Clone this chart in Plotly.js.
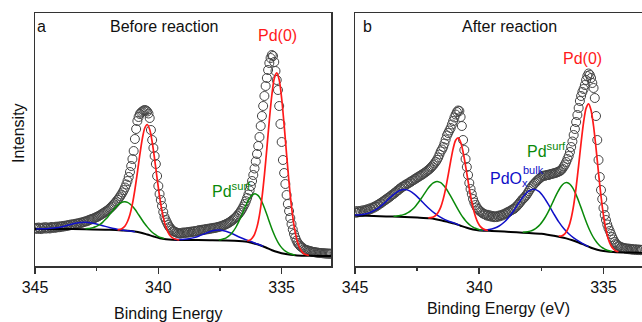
<!DOCTYPE html>
<html>
<head>
<meta charset="utf-8">
<script src="https://cdn.plot.ly/plotly-3.0.1.min.js"></script>
<style>html,body{margin:0;padding:0;background:#fff;overflow:hidden}#chart{width:642px;height:322px}</style>
</head>
<body>
<div id="chart"></div>
<script>
// ---------- measured spectra (binding energy grid: start, step) ----------
const dataA_start = 345.0, dataA_step = 0.05;
const dataA_int = [
37.5,38.2,37.0,38.5,37.8,36.9,38.4,37.6,38.8,37.4,
38.6,38.0,37.5,39.0,38.2,38.9,38.1,39.3,38.6,39.5,
38.8,39.8,39.2,40.1,39.6,40.5,40.0,41.0,40.6,41.5,
41.0,41.8,41.4,42.3,42.0,42.8,42.5,43.4,43.2,44.0,
44.1,44.8,44.7,45.4,
46.2,46.3,47.0,47.3,47.8,48.4,49.0,49.5,50.3,50.9,
51.8,52.5,53.3,54.2,55.0,55.8,56.9,58.0,59.2,60.5,
61.8,63.2,64.6,66.2,67.8,69.6,71.5,73.6,75.9,78.5,
81.5,85.0,89.0,94.0,100,107,115,127,137,145,
149,152,153.5,154.5,155.5,156,155.5,154.5,152.5,148,
136,126,118,110,102,90,80,72,66,60,
54,49,46,43.5,41,39,37.5,36,35,34.3,
33.8,33.3,33.0,32.6,32.5,32.8,33.5,32.9,33.6,33.2,
34.0,33.5,34.3,33.9,34.7,34.2,35.0,34.6,35.4,
35.8,35.4,36.2,35.9,36.6,36.3,37.0,36.7,37.4,37.2,
37.8,37.6,38.2,38.1,38.6,38.7,39.2,39.4,39.9,40.3,
40.8,41.3,41.9,42.5,43.2,44.0,44.8,45.7,46.7,47.8,
49.0,50.3,51.8,53.4,55.2,57.2,59.5,62.0,64.8,68.0,
71.5,75.5,80.0,85.0,91.0,97.5,104.5,112,120,129,
140,150,160,170,180,188,196,203,208,211,
210,204,195,186,176,160,142,124,106,93,
82,71,62,55,48,42,36.5,32,28.5,25.5,
23,21.5,20,19,18.2,
17,16.3,16.0,15.5,15.3,14.8,14.6,14.2,14.0,13.8,
13.5,13.4,13.2,13.0,12.9,12.8,12.7,
12.6,12.5,12.4,12.4,12.3,12.3];

const dataB_start = 345.0, dataB_step = 0.05;
const dataB_int = [
54.5,53.2,55.0,53.8,54.9,54.0,55.6,54.6,56.0,55.2,
56.8,56.0,57.6,57.0,58.5,58.2,59.6,59.5,61.0,61.2,
62.5,62.9,64.0,64.8,65.8,66.5,67.6,68.2,69.3,70.2,
71.3,72.0,73.2,74.0,75.3,76.0,77.4,78.0,79.2,79.6,
80.8,81.0,82.3,82.6,83.8,84.2,85.3,85.8,86.9,87.4,
88.5,89.0,90.0,90.6,91.5,92.2,93.2,94.0,95.0,96.0,
97.0,98.3,99.6,101.0,102.6,104.3,106.2,108.5,111.5,114.6,
116.5,119,122.5,126.5,130.5,133,135.5,138,141.5,145,
148.5,151.5,154,155.5,155,149,140,126,116,107,
99,91,83,77,72,67,63.5,61,58.5,57,
55.5,54.5,53.5,52.5,52,51.5,50.5,51.2,49.8,50.5,
49.2,50.0,48.8,49.6,48.9,50.2,49.5,50.8,50.3,51.6,
51.4,52.6,53.0,54.0,54.2,55.3,55.8,56.8,57.2,58.5,
59.5,61.0,62.3,64.0,65.5,67.0,68.0,69.5,71.0,73.0,
75.0,77.0,78.8,80.5,82.0,83.2,84.6,85.8,87.0,88.0,
89.0,90.0,90.4,90.2,90.8,91.2,91.0,91.8,92.0,92.4,
92.6,93.0,93.4,93.8,94.5,95.0,96.0,97.5,99.5,101.5,
104,107,110,114,119,124.5,131,137,144,151,
158,165,170,174,177,181,186,190,192.5,191,
188,183,178,168,150,126,106,89,76,67,
58,51,46,41.5,38,35,32,29,26.5,24,
22.5,21,20,19.5,18.8,18.5,18.0,17.8,17.2,17.6,
16.8,17.3,16.5,17.0,16.2,16.8,16.0,16.6,15.9,16.4,
15.8,16.2];

// ---------- fitted curves, panel a ----------
const bgA_x = [345,344,342.98,341.97,341.46,340.96,340.7,340.45,340.19,339.94,339.69,339.44,338.93,337.92,336.91,336.4,336.15,335.9,335.64,335.39,335.14,334.89,334.64,334.38,333.88,333];
const bgA_y = [37,37,36.8,36.2,35.5,34.5,33.3,31.5,29.5,27.8,26.8,26.3,26,25.8,25.3,24.3,22.8,21,18.5,15.8,13.8,12.2,11.2,10.6,10.2,10];

const redA1_start = 336.4, redA1_step = 0.1;
const redA1_y = [25.3,25.7,27.8,31.7,39.1,50.9,68,90.8,117.6,145.8,170.5,187.6,193.2,186.1,167.5,141.1,111.5,83.2,59.1,40.7,28,19.8,15.1,12.3,11.2,10.5];
const redA2_start = 341.65, redA2_step = 0.1;
const redA2_y = [36.2,36.6,37.8,40.1,44.5,51.5,62.1,76.4,93.3,111.3,127.2,138,141.5,136.5,124.2,106.9,87.7,69.7,54.8,43.6,36.1,31.3,28.6,27.2,26.5,26.1];
const greenA1_start = 337.55, greenA1_step = 0.1;
const greenA1_y = [26.2,26.5,27.2,28.2,29.9,32.1,35.1,39,43.8,49.2,55,60.7,65.8,69.6,71.8,72.1,70.4,66.7,61.3,54.8,47.8,40.8,34.2,28.5,23.7,19.9,17,14.8,13.3,12.3,11.6,11.0];
const greenA2_start = 342.95, greenA2_step = 0.1;
const greenA2_y = [37.2,37.4,37.8,38.4,39.2,40.4,41.9,43.9,46.4,49.1,52.2,55.3,58.2,60.8,62.7,64,64.3,63.6,62,59.7,56.7,53.2,49.5,45.8,42.3,39.1,36.2,33.8,31.8,30.2,28.9,28.1,27.4];
const blueA1_start = 339.35, blueA1_step = 0.2;
const blueA1_y = [26.4,26.4,26.7,27.3,28.4,30,32,34,35.4,35.9,35.3,33.8,31.7,29.3,27.2,25.4,23.5,21.7,19.6];
const blueA2_start = 344.95, blueA2_step = 0.2;
const blueA2_y = [37.1,37.2,37.3,37.7,38.3,39.1,40.2,41.5,42.7,43.5,43.8,43.3,42.3,41,39.6,38.3,37.2,36.2,35.5,35,34.3];

// ---------- fitted curves, panel b ----------
const bgB_x = [345,344.5,344,343.5,343,342.5,342,341.75,341.5,341.25,341,340.75,340.5,340.25,340,339.75,339.5,339,338.5,338,337.5,337.25,337,336.75,336.5,336.25,336,335.75,335.5,335.25,335,334.75,334.5,334,333.45];
const bgB_y = [50.5,50.2,49.8,49.4,49,48.4,47.7,46.8,45.5,44,42.5,40.3,38.2,36.6,35.6,35.3,35.0,34.4,33.7,33.0,32.2,31.3,30.2,29.0,27.6,25.8,23.5,20.8,18.2,16.3,15.0,14.3,13.8,13.5,13.3];

const redB1_start = 336.8, redB1_step = 0.1;
const redB1_y = [29.8,30,31.2,33.9,39.1,47.8,60.9,78.9,100.6,123.5,143.9,157.8,162.2,155.8,140,117.8,93.2,70,50.6,36.3,26.6,20.5,17,15.1,14.3];
const redB2_start = 342.05, redB2_step = 0.1;
const redB2_y = [48.1,48.3,49,50.6,53.8,58.9,66.9,77.7,90.9,104.9,117.4,125.8,128.2,124,114,100.1,84.8,70.3,58.4,49.3,43.2,39.4,37.3,36.1,35.5];
const greenB1_start = 338.25, greenB1_step = 0.1;
const greenB1_y = [33.8,34.0,34.3,34.9,35.8,37.1,39.1,41.5,44.7,48.5,52.9,57.9,63.2,68.6,73.6,78,81.3,83.1,83.3,81.8,78.6,73.9,68.1,61.6,54.7,47.8,41.3,35.5,30.5,26.3,23,20.3,18.3,16.9,15.8,15.1,14.5];
const greenB2_start = 343.45, greenB2_step = 0.1;
const greenB2_y = [49.75,49.85,50.2,50.65,51.35,52.25,53.65,55.4,57.55,60.35,63.55,67,70.65,74.45,78,80.9,83.05,84.3,84.35,83.3,81.1,78,74.2,69.9,65.4,60.85,56.35,52.2,48.45,45.3,42.65,40.5,38.95,37.7,36.8,36.15,35.85];
const blueB1_start = 340.0, blueB1_step = 0.2;
const blueB1_y = [35.8,36.0,36.4,37.7,40,43.7,49,55.8,63.4,70.3,75.2,76.7,74.6,68.8,60.9,52.2,44.1,37.5,32.2,28.1,24.8,21.9,19.4];
const blueB2_start = 345.0, blueB2_step = 0.2;
const blueB2_y = [50.9,51.2,52.0,53.4,55.8,59.1,63.4,68.1,72.4,75.5,76.5,75.1,71.6,66.9,61.8,57,52.8,49.4,46.6,44.5,42.9,40.8];

// ---------- labels ----------
const tickVals = [345, 340, 335];
const tickText = ['345', '340', '335'];
const panelTitles = ['Before reaction', 'After reaction'];
const panelLetters = ['a', 'b'];
const xTitles = ['Binding Energy', 'Binding Energy (eV)'];
const yTitle = 'Intensity';

// energy grid of the instrument
function grid(start, step, n) {
  const out = [];
  for (let i = 0; i < n; i++) out.push(+(start - i * step).toFixed(3));
  return out;
}

const RED = '#ff1a1a', GREEN = '#0a8a0a', BLUE = '#1010c8', BLACK = '#000000';
const FONT = 'Arial, "Liberation Sans", sans-serif';

function pts(x, y, xa, ya) {
  return {x: x, y: y, xaxis: xa, yaxis: ya, type: 'scatter', mode: 'markers',
    marker: {symbol: 'circle-open', size: 9, color: '#444444', line: {width: 1}},
    hoverinfo: 'skip'};
}
function curve(x, y, color, w, xa, ya) {
  return {x: x, y: y, xaxis: xa, yaxis: ya, type: 'scatter', mode: 'lines',
    line: {color: color, width: w, shape: 'spline', smoothing: 0.8}, hoverinfo: 'skip'};
}

const traces = [
  pts(grid(dataA_start, dataA_step, dataA_int.length), dataA_int, 'x', 'y'),
  curve(bgA_x, bgA_y, BLACK, 2, 'x', 'y'),
  curve(grid(blueA1_start, blueA1_step, blueA1_y.length), blueA1_y, BLUE, 1.5, 'x', 'y'),
  curve(grid(blueA2_start, blueA2_step, blueA2_y.length), blueA2_y, BLUE, 1.5, 'x', 'y'),
  curve(grid(greenA1_start, greenA1_step, greenA1_y.length), greenA1_y, GREEN, 1.5, 'x', 'y'),
  curve(grid(greenA2_start, greenA2_step, greenA2_y.length), greenA2_y, GREEN, 1.5, 'x', 'y'),
  curve(grid(redA1_start, redA1_step, redA1_y.length), redA1_y, RED, 1.7, 'x', 'y'),
  curve(grid(redA2_start, redA2_step, redA2_y.length), redA2_y, RED, 1.7, 'x', 'y'),

  pts(grid(dataB_start, dataB_step, dataB_int.length), dataB_int, 'x2', 'y2'),
  curve(bgB_x, bgB_y, BLACK, 2, 'x2', 'y2'),
  curve(grid(blueB1_start, blueB1_step, blueB1_y.length), blueB1_y, BLUE, 1.5, 'x2', 'y2'),
  curve(grid(blueB2_start, blueB2_step, blueB2_y.length), blueB2_y, BLUE, 1.5, 'x2', 'y2'),
  curve(grid(greenB1_start, greenB1_step, greenB1_y.length), greenB1_y, GREEN, 1.5, 'x2', 'y2'),
  curve(grid(greenB2_start, greenB2_step, greenB2_y.length), greenB2_y, GREEN, 1.5, 'x2', 'y2'),
  curve(grid(redB1_start, redB1_step, redB1_y.length), redB1_y, RED, 1.7, 'x2', 'y2'),
  curve(grid(redB2_start, redB2_step, redB2_y.length), redB2_y, RED, 1.7, 'x2', 'y2')
];

const W = 642, H = 322;
const px = v => v / W, py = v => 1 - v / H;
const yDom = [py(266), py(13)];
const AX = '#333333';

function xAxis(dom, range, anchor, title) {
  const a = {domain: dom, range: range, anchor: anchor, tickmode: 'array', tickvals: tickVals, ticktext: tickText,
    ticks: 'outside', ticklen: 6, tickwidth: 1.5, tickcolor: AX,
    minor: {ticks: 'outside', ticklen: 3, tickwidth: 1.5, tickcolor: AX, tickmode: 'linear', tick0: 345, dtick: 2.5, showgrid: false},
    showline: true, linecolor: AX, linewidth: 1.5, mirror: true, showgrid: false, zeroline: false,
    tickfont: {family: FONT, size: 16, color: '#111'}, automargin: false, fixedrange: true};
  if (title) a.title = {text: title, font: {family: FONT, size: 16, color: '#111'}, standoff: 8};
  return a;
}
function yAxis(anchor, mirror) {
  return {domain: yDom, range: [0, 253], anchor: anchor, showticklabels: false, ticks: '',
    showline: true, linecolor: AX, linewidth: 1.5, mirror: mirror, showgrid: false, zeroline: false,
    automargin: false, fixedrange: true};
}

const ann = (x, y, text, color, size, xanchor) => ({xref: 'paper', yref: 'paper', x: px(x), y: py(y),
  text: text, showarrow: false, xanchor: xanchor || 'center', yanchor: 'middle',
  font: {family: FONT, size: size || 16, color: color || '#111'}});

const yTitleAnn = Object.assign(ann(18, 133, yTitle), {textangle: -90});

const layout = {
  width: W, height: H, margin: {l: 0, r: 0, t: 0, b: 0},
  paper_bgcolor: '#fff', plot_bgcolor: '#fff', showlegend: false,
  xaxis: xAxis([px(35), px(331)], [345, 333], 'y', null),
  yaxis: yAxis('x', true),
  xaxis2: xAxis([px(355), 1], [345, 333.45], 'y2', xTitles[1]),
  yaxis2: yAxis('x2', false),
  annotations: [
    yTitleAnn,
    ann(42, 27, panelLetters[0]),
    ann(165, 27, panelTitles[0]),
    ann(169, 313, xTitles[0]),
    ann(277, 35, 'Pd(0)', RED),
    ann(210, 190, 'Pd<sup>surf</sup>', GREEN, 16, 'left'),
    ann(367, 27, panelLetters[1]),
    ann(509, 27, panelTitles[1]),
    ann(582, 59, 'Pd(0)', RED),
    ann(525, 150, 'Pd<sup>surf</sup>', GREEN, 16, 'left'),
    ann(488, 180, 'PdO<sub>x</sub>', BLUE, 16, 'left'),
    ann(521, 170, 'bulk', BLUE, 11, 'left')
  ]
};

Plotly.newPlot('chart', traces, layout, {staticPlot: true, displayModeBar: false});
</script>
</body>
</html>
